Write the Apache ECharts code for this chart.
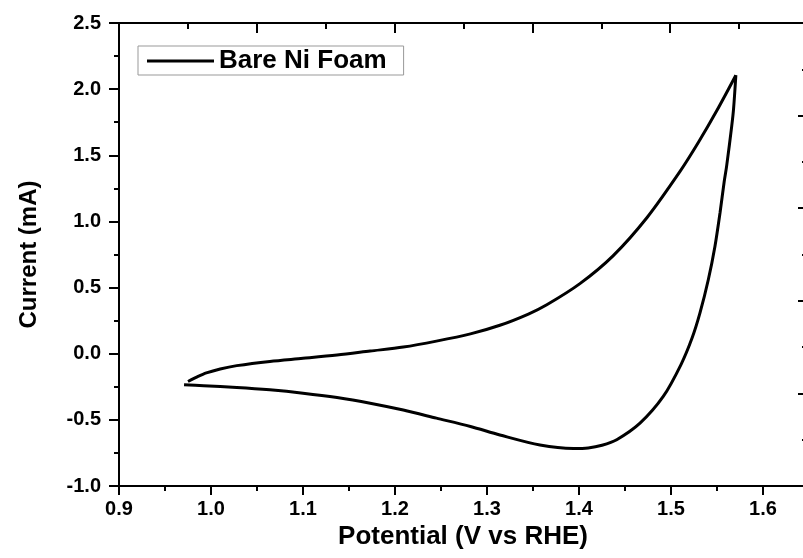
<!DOCTYPE html>
<html>
<head>
<meta charset="utf-8">
<script src="https://cdn.jsdelivr.net/npm/echarts@6/dist/echarts.min.js"></script>
<style>
html,body{margin:0;padding:0;background:#fff;overflow:hidden;width:803px;height:558px;}
#chart{width:855px;height:558px;}
</style>
</head>
<body>
<div id="chart"></div>
<script>
// Forward (anodic) sweep
var potentialForward = [0.975, 0.985, 0.995, 1.010, 1.028, 1.064, 1.100, 1.137, 1.173, 1.209, 1.245, 1.282, 1.314, 1.345, 1.365, 1.401, 1.437, 1.474, 1.510, 1.530, 1.550, 1.5705];
var currentForward   = [-0.21, -0.175, -0.145, -0.115, -0.090, -0.058, -0.035, -0.010, 0.020, 0.050, 0.095, 0.150, 0.215, 0.300, 0.370, 0.530, 0.740, 1.030, 1.380, 1.600, 1.840, 2.105];
// Reverse (cathodic) sweep
var potentialReverse = [1.5705, 1.568, 1.566, 1.5605, 1.5578, 1.5533, 1.5478, 1.5406, 1.5315, 1.5230, 1.5110, 1.4916, 1.4663, 1.441, 1.425, 1.410, 1.394, 1.3576, 1.314, 1.282, 1.245, 1.209, 1.173, 1.137, 1.100, 1.064, 1.028, 0.992, 0.9707];
var currentReverse   = [2.105, 1.85, 1.72, 1.42, 1.30, 1.066, 0.813, 0.561, 0.308, 0.120, -0.080, -0.323, -0.525, -0.650, -0.692, -0.712, -0.716, -0.690, -0.614, -0.550, -0.487, -0.426, -0.374, -0.331, -0.298, -0.273, -0.255, -0.242, -0.235];
var seriesName = 'Bare Ni Foam';
var xTickMin = 0.9, xTickMax = 1.7, xTickStep = 0.1;
var yTickMin = -1.0, yTickMax = 2.5, yTickStep = 0.5;

function pairs(xs, ys){ return xs.map(function(x,i){ return [x, ys[i]]; }); }

var FONT = '"Liberation Sans", Arial, sans-serif';
var chart = echarts.init(document.getElementById('chart'), null, {renderer:'canvas'});
var lineStyleAxis = {color:'#000', width:2};

chart.setOption({
  backgroundColor:'#fff',
  animation:false,
  grid:{left:119, top:23, right:0, bottom:72, containLabel:false},
  legend:{
    data:[seriesName], left:138, top:46,
    icon:'rect', itemWidth:67, itemHeight:3, itemGap:8,
    borderColor:'#999', borderWidth:1, padding:[2,17,1,9],
    textStyle:{fontFamily:FONT, fontWeight:'bold', fontSize:26, color:'#000', lineHeight:26}
  },
  xAxis:[{
    type:'value', min:xTickMin, max:xTickMax, interval:xTickStep, position:'bottom',
    name:'Potential (V vs RHE)', nameLocation:'middle', nameGap:36,
    nameTextStyle:{fontFamily:FONT, fontWeight:'bold', fontSize:26, color:'#000', padding:[0,48,0,0]},
    axisLine:{show:true, onZero:false, lineStyle:lineStyleAxis},
    axisTick:{show:true, inside:false, length:9, lineStyle:{color:'#000', width:2}},
    minorTick:{show:true, splitNumber:2, length:5, lineStyle:{color:'#000', width:2}},
    splitLine:{show:false}, minorSplitLine:{show:false},
    axisLabel:{fontFamily:FONT, fontWeight:'bold', fontSize:20, color:'#000', margin:13,
      showMaxLabel:false,
      formatter:function(v){ return v.toFixed(1); }}
  },{
    type:'value', min:0, max:5.341, interval:1, position:'top',
    axisLine:{show:true, onZero:false, lineStyle:lineStyleAxis},
    axisTick:{show:true, inside:true, length:10, lineStyle:{color:'#000', width:2}},
    minorTick:{show:true, splitNumber:2, length:6, lineStyle:{color:'#000', width:2}},
    splitLine:{show:false}, axisLabel:{show:false}
  }],
  yAxis:[{
    type:'value', min:yTickMin, max:yTickMax, interval:yTickStep, position:'left',
    name:'Current (mA)', nameLocation:'middle', nameGap:78,
    nameTextStyle:{fontFamily:FONT, fontWeight:'bold', fontSize:24, color:'#000'},
    axisLine:{show:true, onZero:false, lineStyle:lineStyleAxis},
    axisTick:{show:true, inside:false, length:10, lineStyle:{color:'#000', width:2}},
    minorTick:{show:true, splitNumber:2, length:5, lineStyle:{color:'#000', width:2}},
    splitLine:{show:false}, minorSplitLine:{show:false},
    axisLabel:{fontFamily:FONT, fontWeight:'bold', fontSize:20, color:'#000', margin:18,
      formatter:function(v){ return v.toFixed(1); }}
  },{
    type:'value', min:0, max:5, interval:1, position:'right', offset:-47,
    axisLine:{show:true, onZero:false, lineStyle:lineStyleAxis},
    axisTick:{show:true, inside:true, length:10, lineStyle:{color:'#000', width:2}},
    minorTick:{show:true, splitNumber:2, length:6, lineStyle:{color:'#000', width:2}},
    splitLine:{show:false}, axisLabel:{show:false}
  }],
  series:[{
    name:seriesName, type:'line', xAxisIndex:0, yAxisIndex:0,
    data:pairs(potentialForward, currentForward),
    showSymbol:false, symbol:'none', smooth:0.3,
    lineStyle:{color:'#000', width:3}, itemStyle:{color:'#000'}
  },{
    name:seriesName, type:'line', xAxisIndex:0, yAxisIndex:0,
    data:pairs(potentialReverse, currentReverse),
    showSymbol:false, symbol:'none', smooth:0.3,
    lineStyle:{color:'#000', width:3}, itemStyle:{color:'#000'}
  }]
});
</script>
</body>
</html>
